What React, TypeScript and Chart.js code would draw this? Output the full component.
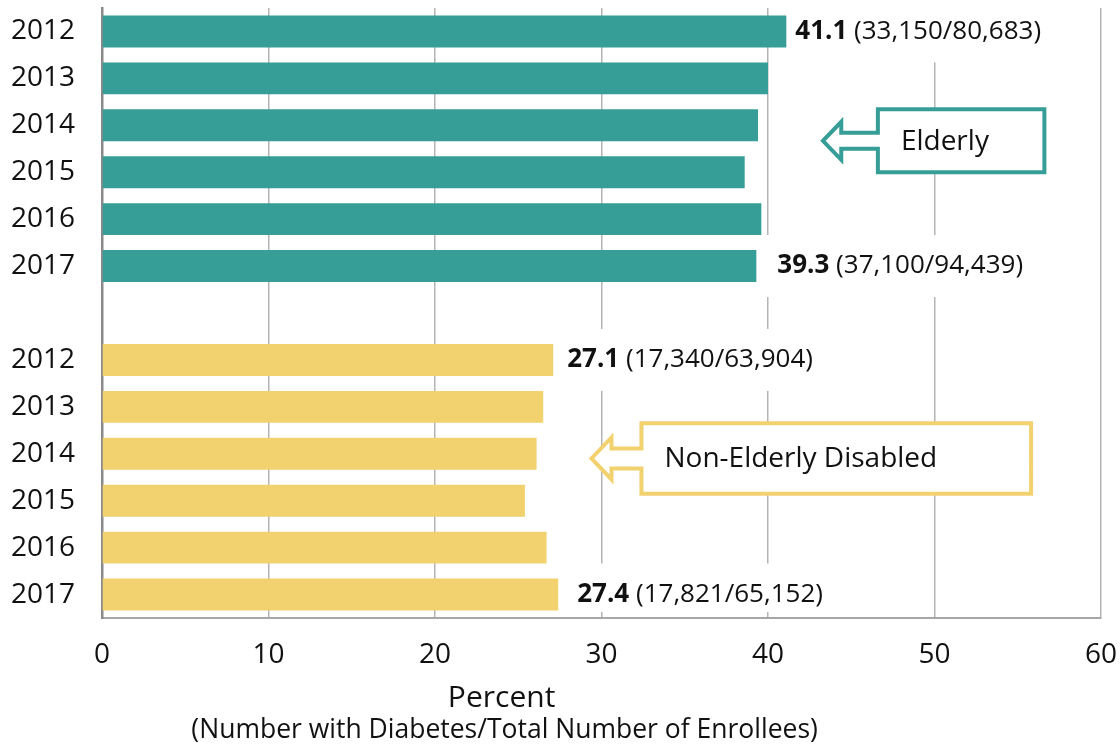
import React, { useEffect, useRef } from 'react';
import { Chart, registerables } from 'chart.js';

Chart.register(...registerables);

// ---- data ----
const years = ['2012', '2013', '2014', '2015', '2016', '2017'];
const elderlyValues = [41.1, 40.0, 39.4, 38.6, 39.6, 39.3];
const disabledValues = [27.1, 26.5, 26.1, 25.4, 26.7, 27.4];
const elderlyCounts = ['33,150/80,683', '', '', '', '', '37,100/94,439'];
const disabledCounts = ['17,340/63,904', '', '', '', '', '17,821/65,152'];
const groupNames = ['Elderly', 'Non-Elderly Disabled'];
const axisTitle = 'Percent';
const axisSubtitle = '(Number with Diabetes/Total Number of Enrollees)';

// ---- style ----
const FONT = "'Open Sans', 'DejaVu Sans', sans-serif";
const TEAL = '#369E96';
const YELLOW = '#F2D16F';
const TEXT = '#111111';
const elderlyLabelGap = [9, 0, 0, 0, 0, 21];
const disabledLabelGap = [14, 0, 0, 0, 0, 19];

const categories = [...years, '', ...years];
const values = [...elderlyValues, null, ...disabledValues];
const colors = [
  ...elderlyValues.map(() => TEAL),
  'rgba(0,0,0,0)',
  ...disabledValues.map(() => YELLOW),
];

const labelPlugin = {
  id: 'valueLabels',
  afterDatasetsDraw(chart: any) {
    const ctx = chart.ctx;
    const xs = chart.scales.x;
    const ys = chart.scales.y;
    const area = chart.chartArea;
    const items: any[] = [];
    elderlyCounts.forEach((c, i) => {
      if (c) items.push({ idx: i, v: elderlyValues[i], c, gap: elderlyLabelGap[i] });
    });
    disabledCounts.forEach((c, i) => {
      if (c) items.push({ idx: years.length + 1 + i, v: disabledValues[i], c, gap: disabledLabelGap[i] });
    });
    ctx.save();
    ctx.textBaseline = 'middle';
    ctx.textAlign = 'left';
    items.forEach((it) => {
      const barEnd = xs.getPixelForValue(it.v);
      const x0 = barEnd + it.gap;
      const y = ys.getPixelForValue(it.idx);
      const bold = it.v.toFixed(1);
      const rest = ' (' + it.c + ')';
      ctx.font = `bold 26px ${FONT}`;
      const w1 = ctx.measureText(bold).width;
      ctx.font = `26px ${FONT}`;
      const w2 = ctx.measureText(rest).width;
      const left = Math.max(barEnd + 1, x0 - 14);
      const right = x0 + w1 + w2 + 14;
      const top = Math.max(area.top, y - 31);
      const bottom = Math.min(area.bottom - 6, y + 31);
      ctx.fillStyle = '#ffffff';
      ctx.fillRect(left, top, right - left, bottom - top);
      ctx.fillStyle = TEXT;
      ctx.font = `bold 26px ${FONT}`;
      ctx.fillText(bold, x0, y);
      ctx.font = `26px ${FONT}`;
      ctx.fillText(rest, x0 + w1, y);
    });
    ctx.restore();
  },
};

function drawCallout(
  ctx: CanvasRenderingContext2D,
  tip: number, headBase: number, boxL: number, boxR: number,
  cy: number, halfBox: number, halfHead: number, halfShaft: number,
  color: string, text: string,
) {
  ctx.save();
  ctx.beginPath();
  ctx.moveTo(boxL, cy - halfBox);
  ctx.lineTo(boxR, cy - halfBox);
  ctx.lineTo(boxR, cy + halfBox);
  ctx.lineTo(boxL, cy + halfBox);
  ctx.lineTo(boxL, cy + halfShaft);
  ctx.lineTo(headBase, cy + halfShaft);
  ctx.lineTo(headBase, cy + halfHead);
  ctx.lineTo(tip, cy);
  ctx.lineTo(headBase, cy - halfHead);
  ctx.lineTo(headBase, cy - halfShaft);
  ctx.lineTo(boxL, cy - halfShaft);
  ctx.closePath();
  ctx.fillStyle = '#ffffff';
  ctx.fill();
  ctx.lineWidth = 4;
  ctx.lineJoin = 'miter';
  ctx.strokeStyle = color;
  ctx.stroke();
  ctx.fillStyle = TEXT;
  ctx.font = `28px ${FONT}`;
  ctx.textAlign = 'left';
  ctx.textBaseline = 'middle';
  ctx.fillText(text, boxL + 23, cy + 1);
  ctx.restore();
}

const calloutPlugin = {
  id: 'callouts',
  afterDatasetsDraw(chart: any) {
    const ctx = chart.ctx;
    const xs = chart.scales.x;
    const ys = chart.scales.y;
    const step = ys.getPixelForValue(1) - ys.getPixelForValue(0);
    const p = (v: number) => xs.getPixelForValue(v);
    drawCallout(ctx, p(43.3), p(44.4), p(46.6), p(56.6),
      ys.getPixelForValue(2.33), step * 0.67, 19, 8, TEAL, groupNames[0]);
    drawCallout(ctx, p(29.4), p(30.6), p(32.4), p(55.8),
      ys.getPixelForValue(9.1), step * 0.75, 21, 10, YELLOW, groupNames[1]);
  },
};

const titlePlugin = {
  id: 'axisTitles',
  afterDraw(chart: any) {
    const ctx = chart.ctx;
    const area = chart.chartArea;
    const cx = area.left + area.width * 0.4;
    ctx.save();
    ctx.fillStyle = TEXT;
    ctx.textAlign = 'center';
    ctx.textBaseline = 'middle';
    ctx.font = `30px ${FONT}`;
    ctx.fillText(axisTitle, cx, area.bottom + 80);
    ctx.font = `26.5px ${FONT}`;
    ctx.fillText(axisSubtitle, cx + 3, area.bottom + 112);
    ctx.restore();
  },
};

export default function App() {
  const ref = useRef<HTMLCanvasElement | null>(null);
  useEffect(() => {
    if (!ref.current) return;
    Chart.defaults.font.family = FONT;
    const chart = new Chart(ref.current, {
      type: 'bar',
      data: {
        labels: categories,
        datasets: [
          {
            data: values as any,
            backgroundColor: colors,
            borderWidth: 0,
            categoryPercentage: 1,
            barPercentage: 0.68,
          },
        ],
      },
      options: {
        indexAxis: 'y',
        animation: false,
        responsive: false,
        layout: { padding: { top: 8, right: 19, left: 0, bottom: 0 } },
        plugins: {
          legend: { display: false },
          tooltip: { enabled: false },
        },
        scales: {
          x: {
            type: 'linear',
            min: 0,
            max: 60,
            ticks: {
              stepSize: 10,
              color: TEXT,
              font: { size: 28, family: FONT },
              padding: 20,
            },
            grid: { color: '#b4b4b4', lineWidth: 1.5, drawTicks: false },
            border: { display: true, color: '#a6a6a6', width: 2 },
            afterFit: (s: any) => {
              s.height = 128;
              s.paddingLeft = 0;
              s.paddingRight = 0;
            },
          },
          y: {
            type: 'category',
            ticks: {
              color: TEXT,
              font: { size: 28, family: FONT },
              padding: 27,
              autoSkip: false,
            },
            grid: { display: false, drawTicks: false },
            border: { display: true, color: '#8a8a8a', width: 2.5 },
            afterFit: (s: any) => {
              s.width = 102;
              s.paddingTop = 0;
              s.paddingBottom = 0;
            },
          },
        },
      },
      plugins: [labelPlugin, calloutPlugin, titlePlugin],
    });
    return () => chart.destroy();
  }, []);
  return (
    <div style={{ position: 'absolute', left: 0, top: 0, width: 1120, height: 746, background: '#fff' }}>
      <canvas ref={ref} width={1120} height={746} style={{ width: 1120, height: 746 }} />
    </div>
  );
}
